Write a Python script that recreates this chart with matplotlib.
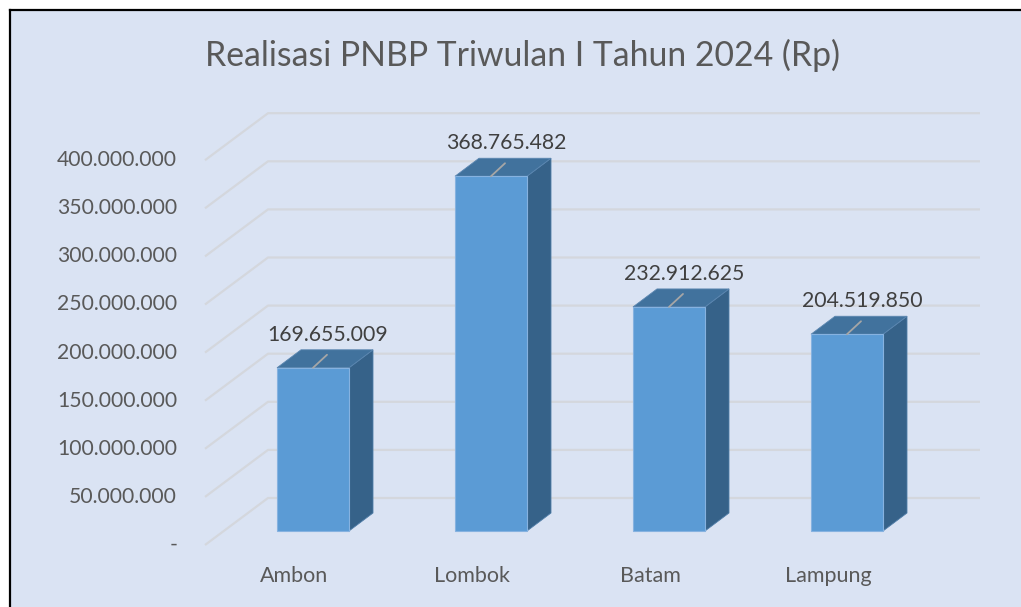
import matplotlib
matplotlib.use("Agg")
import matplotlib.pyplot as plt
from matplotlib.patches import Polygon, Rectangle
from matplotlib.lines import Line2D
from matplotlib.transforms import offset_copy

# ---------------- data ----------------
categories = ["Ambon", "Lombok", "Batam", "Lampung"]
values = [169655009, 368765482, 232912625, 204519850]
value_labels = ["169.655.009", "368.765.482", "232.912.625", "204.519.850"]
tick_values = [0, 50e6, 100e6, 150e6, 200e6, 250e6, 300e6, 350e6, 400e6]
tick_labels = ["-", "50.000.000", "100.000.000", "150.000.000", "200.000.000",
               "250.000.000", "300.000.000", "350.000.000", "400.000.000"]
title = "Realisasi PNBP Triwulan I Tahun 2024 (Rp)"

# ---------------- style / layout ----------------
W, H = 1021, 607
BG = "#DAE3F3"
FRONT = "#5B9BD5"
SIDE = "#366289"
TOP = "#41729D"
GRID = "#D4D7DD"
FONT = "Lato"

X0, PXC = 313.0, 178.0          # pixel x of first category, pixels per category
Y0, PXV = 531.0, 0.962e-6       # pixel y (from top) of zero, pixels per unit value

fig = plt.figure(figsize=(W / 100, H / 100), dpi=100)
fig.patch.set_facecolor("white")
# chart area background and border (top + left visible)
fig.add_artist(Rectangle((9.5 / W, 0), 1, (H - 9.5) / H, transform=fig.transFigure,
                         facecolor=BG, edgecolor="none", zorder=0))
fig.add_artist(Line2D([9.5 / W, 1], [(H - 9.5) / H] * 2, transform=fig.transFigure,
                      color="black", lw=1.6, zorder=1))
fig.add_artist(Line2D([9.5 / W] * 2, [0, (H - 9.5) / H], transform=fig.transFigure,
                      color="black", lw=1.6, zorder=1))

ax = fig.add_axes([0, 0, 1, 1])
ax.set_facecolor("none")
ax.set_xlim(-X0 / PXC, (W - X0) / PXC)
ax.set_ylim(-(H - Y0) / PXV, Y0 / PXV)
ax.axis("off")


def off(dx_px, dy_px):
    """pixel offset (dy positive = up) -> data offset"""
    return dx_px / PXC, dy_px / PXV


fdx, fdy = off(-19, -14)   # from bar plane to front of floor
bdx, bdy = off(44, 33)     # from bar plane to back wall
cdx, cdy = off(24, 18)     # bar depth
hw = 36 / PXC
x_left, x_right = -0.5, len(categories) - 0.5

# gridlines (side wall diagonals + back wall horizontals)
for v in tick_values:
    ax.plot([x_left + fdx, x_left + bdx, x_right + bdx],
            [v + fdy, v + bdy, v + bdy], color=GRID, lw=1.6, zorder=1,
            solid_capstyle="butt")

# bars
for i, v in enumerate(values):
    front = [(i - hw, 0), (i + hw, 0), (i + hw, v), (i - hw, v)]
    side = [(i + hw, 0), (i + hw + cdx, cdy), (i + hw + cdx, v + cdy), (i + hw, v)]
    top = [(i - hw, v), (i + hw, v), (i + hw + cdx, v + cdy), (i - hw + cdx, v + cdy)]
    ax.add_patch(Polygon(side, closed=True, facecolor=SIDE, edgecolor="#4F7DA8",
                         lw=0.6, zorder=3))
    ax.add_patch(Polygon(top, closed=True, facecolor=TOP, edgecolor="#5B86B0",
                         lw=0.6, zorder=3))
    ax.add_patch(Polygon(front, closed=True, facecolor=FRONT, edgecolor="#86B2E0",
                         lw=0.8, zorder=4))
    # leader line and data label
    ax.annotate("", xy=(i, v), xytext=(14, 13), textcoords="offset pixels",
                arrowprops=dict(arrowstyle="-", color="#A6A6A6", lw=1.3,
                                shrinkA=0, shrinkB=0), zorder=5)
    ax.text(i, v, value_labels[i],
            transform=offset_copy(ax.transData, fig, x=15, y=33, units="dots"),
            ha="center", va="center", fontsize=15.3, color="#404040", family=FONT, zorder=6)

# value-axis labels
for v, lab in zip(tick_values, tick_labels):
    ax.text(x_left + fdx, v + fdy, lab,
            transform=offset_copy(ax.transData, fig, x=-28, y=0, units="dots"),
            ha="right", va="center", fontsize=15.2, color="#595959", family=FONT)

# category labels
for i, c in enumerate(categories):
    ax.text(i + fdx, fdy, c,
            transform=offset_copy(ax.transData, fig, x=0, y=-31, units="dots"),
            ha="center", va="center", fontsize=15.5, color="#595959", family=FONT)

fig.text(522 / W, 1 - 55 / H, title, ha="center", va="center", fontsize=24.3,
         color="#595959", family=FONT)

fig.savefig("out.png", dpi=100, facecolor=fig.get_facecolor())
